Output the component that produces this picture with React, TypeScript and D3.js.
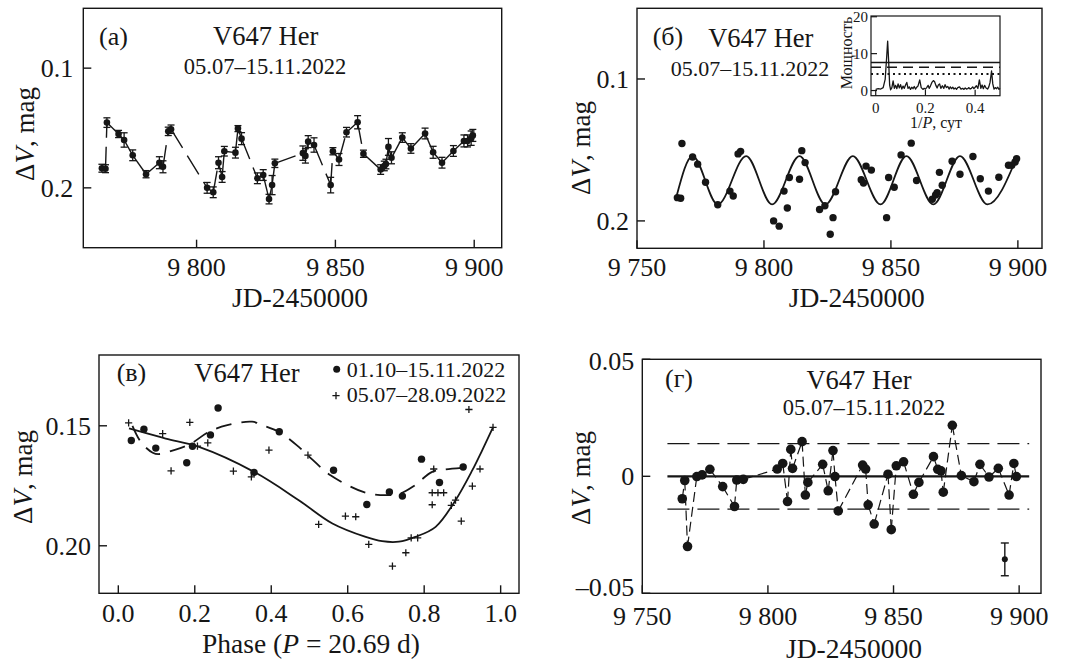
import React, { useEffect, useRef } from 'react';
import * as d3 from 'd3';

const FONT = '"Liberation Serif", "Times New Roman", serif';
const INK = '#161616';

// V647 Her, 05.07-15.11.2022: JD-2450000, dV (mag) and its error (mag)
const obsJd = [
  9765.9, 9767.2, 9767.7, 9771.9, 9773.9, 9777.0, 9781.8, 9786.6, 9787.9, 9789.8,
  9790.8, 9803.8, 9806.0, 9807.9, 9809.2, 9810.0, 9814.0, 9814.9, 9816.2, 9821.9,
  9824.0, 9826.1, 9827.2, 9828.2, 9838.3, 9839.2, 9840.2, 9842.3, 9848.3, 9849.1,
  9851.3, 9854.0, 9858.0, 9860.1, 9866.3, 9867.6, 9868.2, 9869.1, 9870.2, 9874.1,
  9877.2, 9882.3, 9885.2, 9888.4, 9892.5, 9896.3, 9897.6, 9898.9, 9899.5,
];
const obsDv = [
  0.1836, 0.184, 0.1455, 0.155, 0.16, 0.1728, 0.1886, 0.179, 0.1824, 0.1528,
  0.151, 0.2, 0.2037, 0.179, 0.1909, 0.1694, 0.1706, 0.1505, 0.1589, 0.192,
  0.1893, 0.2094, 0.1977, 0.1795, 0.171, 0.1733, 0.1614, 0.1642, 0.1977, 0.1694,
  0.1763, 0.1535, 0.1452, 0.1715, 0.1847, 0.1817, 0.1801, 0.1658, 0.1749, 0.158,
  0.1671, 0.1546, 0.1703, 0.179, 0.1692, 0.1608, 0.1608, 0.1585, 0.1562,
];
const obsErr = [
  0.0033, 0.0033, 0.004, 0.003, 0.006, 0.0045, 0.003, 0.005, 0.005, 0.0035,
  0.0035, 0.0045, 0.0045, 0.005, 0.0045, 0.004, 0.0045, 0.0025, 0.005, 0.0045,
  0.0045, 0.004, 0.008, 0.0035, 0.006, 0.006, 0.005, 0.006, 0.0065, 0.003,
  0.005, 0.004, 0.0055, 0.003, 0.004, 0.004, 0.004, 0.007, 0.005, 0.004,
  0.004, 0.0045, 0.005, 0.0045, 0.0045, 0.005, 0.005, 0.006, 0.005,
];

const fitJd = [9765.6, 9771.9, 9781.8, 9793.0, 9803.2, 9814.0, 9824.2, 9835.0, 9845.9, 9856.1, 9866.7, 9877.2, 9888.0, 9899.5];
const fitDv = [0.1825, 0.1543, 0.1884, 0.1543, 0.1884, 0.1543, 0.1884, 0.1543, 0.1884, 0.1543, 0.1884, 0.1543, 0.1884, 0.1555];

// periodogram (inset)
const freq = [
  0, 0.01, 0.02, 0.03, 0.038, 0.044, 0.048, 0.052, 0.056, 0.06, 0.065, 0.07, 0.075, 0.08, 0.085,
  0.09, 0.095, 0.1, 0.105, 0.11, 0.115, 0.12, 0.125, 0.13, 0.135, 0.14, 0.145, 0.15, 0.155, 0.16,
  0.165, 0.17, 0.177, 0.183, 0.19, 0.195, 0.2, 0.205, 0.211, 0.215, 0.22, 0.226, 0.232, 0.237, 0.242,
  0.247, 0.252, 0.257, 0.262, 0.268, 0.274, 0.279, 0.284, 0.29, 0.295, 0.3, 0.305, 0.31, 0.315, 0.32,
  0.325, 0.33, 0.337, 0.343, 0.35, 0.355, 0.36, 0.365, 0.37, 0.375, 0.38, 0.385, 0.39, 0.395, 0.4,
  0.405, 0.411, 0.417, 0.423, 0.428, 0.433, 0.438, 0.444, 0.45, 0.455, 0.46, 0.466, 0.471, 0.476, 0.481,
  0.486, 0.491, 0.496, 0.5,
];
const power = [
  0.3, 0.5, 0.4, 0.8, 3.0, 9.0, 13.4, 8.0, 1.5, 0.2, 0.8, 2.6, 0.6, 1.4, 0.5,
  1.8, 0.7, 1.6, 0.4, 1.2, 0.6, 1.5, 2.2, 0.6, 1.0, 0.3, 0.9, 0.5, 1.1, 0.4,
  0.9, 1.2, 2.9, 0.8, 0.3, 0.6, 0.4, 0.8, 1.4, 0.6, 1.2, 2.2, 2.7, 2.4, 1.4,
  0.7, 1.5, 1.8, 0.6, 1.3, 0.6, 1.6, 0.8, 1.1, 0.4, 1.0, 0.5, 0.9, 0.4, 0.7,
  0.3, 0.8, 1.0, 0.4, 0.6, 0.3, 0.7, 0.4, 0.5, 0.8, 0.4, 0.6, 1.0, 0.5, 0.9,
  1.3, 0.6, 2.9, 0.6, 1.5, 0.5, 1.4, 0.7, 0.4, 1.0, 2.2, 5.3, 1.8, 0.4, 0.8,
  0.5, 0.9, 0.3, 0.6,
];
const powerSolid = 7.6;
const powerDashed = 6.3;
const powerDotted = 4.5;

// phase diagram, P = 20.69 d
const latePhase = [0.034, 0.067, 0.098, 0.179, 0.194, 0.241, 0.261, 0.355, 0.421, 0.563, 0.65, 0.709, 0.743, 0.793, 0.84, 0.902];
const lateDv = [0.1561, 0.1514, 0.1593, 0.1654, 0.1585, 0.1538, 0.1426, 0.1694, 0.1525, 0.1685, 0.1828, 0.1776, 0.1793, 0.1639, 0.1736, 0.1672];
const earlyPhase = [
  0.027, 0.116, 0.138, 0.187, 0.207, 0.234, 0.301, 0.348, 0.394, 0.496,
  0.524, 0.594, 0.621, 0.655, 0.717, 0.752, 0.766, 0.783, 0.821, 0.825,
  0.821, 0.836, 0.851, 0.871, 0.882, 0.897, 0.926, 0.946, 0.917, 0.98,
];
const earlyDv = [
  0.1488, 0.1533, 0.1688, 0.1486, 0.1585, 0.1571, 0.1689, 0.1713, 0.1601, 0.1622,
  0.1911, 0.1876, 0.1879, 0.1994, 0.2085, 0.2029, 0.1967, 0.1967, 0.1829, 0.168,
  0.1779, 0.1779, 0.1779, 0.1832, 0.181, 0.1897, 0.1751, 0.168, 0.1432, 0.1507,
];
const earlyFitPhase = [0.028, 0.124, 0.211, 0.355, 0.472, 0.56, 0.647, 0.69, 0.734, 0.777, 0.83, 0.882, 0.926, 0.952, 0.98];
const earlyFitDv = [0.1511, 0.1553, 0.1588, 0.1692, 0.181, 0.1907, 0.1963, 0.1981, 0.1983, 0.1963, 0.1921, 0.181, 0.1685, 0.1601, 0.1507];
const lateFitPhase = [0.037, 0.06, 0.09, 0.105, 0.15, 0.19, 0.237, 0.285, 0.35, 0.376, 0.42, 0.472, 0.507, 0.555, 0.647, 0.708, 0.738, 0.773, 0.821, 0.856, 0.904];
const lateFitDv = [0.15, 0.157, 0.1612, 0.1618, 0.1599, 0.1574, 0.1525, 0.1497, 0.1483, 0.1497, 0.1525, 0.1588, 0.164, 0.1706, 0.1779, 0.1789, 0.1782, 0.1751, 0.1692, 0.1682, 0.1675];

// residuals after removing the fit
const resJd = [
  9765.9, 9766.9, 9768.0, 9771.7, 9773.8, 9776.9, 9782.0, 9786.7, 9787.6, 9790.2,
  9803.7, 9805.9, 9807.8, 9809.1, 9809.8, 9813.6, 9814.9, 9815.9, 9821.8, 9824.0,
  9825.9, 9826.7, 9828.0, 9837.7, 9838.9, 9839.9, 9842.3, 9847.8, 9849.1, 9851.1,
  9854.0, 9857.9, 9860.1, 9865.9, 9867.6, 9868.9, 9869.8, 9873.4, 9877.0, 9882.0,
  9884.4, 9888.0, 9891.7, 9896.0, 9897.9, 9898.9,
];
const resDv = [
  -0.0096, -0.0018, -0.03, -0.0001, 0.0006, 0.003, -0.0044, -0.0129, -0.0016, -0.0013,
  0.0031, 0.0055, -0.0108, 0.0115, 0.0034, 0.0148, -0.008, -0.0026, 0.0051, -0.0062,
  0.011, -0.0001, -0.0148, 0.0048, 0.0031, -0.0122, -0.0204, 0.0009, -0.0228, 0.0045,
  0.0062, -0.0077, -0.0026, 0.0084, 0.003, 0.0023, -0.0068, 0.0218, 0.0003, -0.0023,
  0.0051, -0.0003, 0.0034, -0.008, 0.0055, -0.0001,
];
const resLevel = 0.014;
const resLineJd = [9760, 9904];
const typicalErr = { jd: 9894.3, dv: -0.0355, err: 0.007 };

// ticks
const jdTicks = [9750, 9800, 9850, 9900];
const jdLabels = ['9 750', '9 800', '9 850', '9 900'];
const magTicks = [0.1, 0.2];
const magLabels = ['0.1', '0.2'];
const phaseTicks = [0, 0.2, 0.4, 0.6, 0.8, 1.0];
const phaseLabels = ['0.0', '0.2', '0.4', '0.6', '0.8', '1.0'];
const phaseMagTicks = [0.15, 0.2];
const phaseMagLabels = ['0.15', '0.20'];
const resTicks = [-0.05, 0, 0.05];
const resLabels = ['\u20130.05', '0', '0.05'];
const powerTicks = [0, 10, 20];
const powerLabels = ['0', '10', '20'];
const freqTicks = [0, 0.2, 0.4];
const freqLabels = ['0', '0.2', '0.4'];

type Box = { left: number; right: number; top: number; bottom: number };

const text = (g: any, x: number, y: number, s: string, size: number, anchor = 'start') =>
  g.append('text')
    .attr('x', x)
    .attr('y', y)
    .attr('font-size', size)
    .attr('text-anchor', anchor)
    .attr('fill', INK)
    .text(s);

const frame = (g: any, b: Box, x: any, y: any, o: any) => {
  g.append('rect')
    .attr('x', b.left)
    .attr('y', b.top)
    .attr('width', b.right - b.left)
    .attr('height', b.bottom - b.top)
    .attr('fill', 'none')
    .attr('stroke', INK)
    .attr('stroke-width', o.stroke || 1.4);

  o.xTicks.forEach((t: number, i: number) => {
    g.append('line')
      .attr('x1', x(t)).attr('x2', x(t))
      .attr('y1', b.bottom).attr('y2', b.bottom - o.tick)
      .attr('stroke', INK).attr('stroke-width', o.stroke || 1.4);
    text(g, x(t), o.xLabelY, o.xLabels[i], o.size, 'middle');
  });

  o.yTicks.forEach((t: number, i: number) => {
    g.append('line')
      .attr('x1', b.left).attr('x2', b.left + o.tick)
      .attr('y1', y(t)).attr('y2', y(t))
      .attr('stroke', INK).attr('stroke-width', o.stroke || 1.4);
    // small nudges keep the end labels inside the panel, as in the original
    const nudge = o.yNudge ? o.yNudge[i] : 0;
    text(g, b.left - o.yGap, y(t) + nudge, o.yLabels[i], o.size, 'end').attr('dy', '0.35em');
  });
};

const yTitle = (g: any, cx: number, cy: number, size: number) => {
  const t = g.append('text')
    .attr('transform', `translate(${cx},${cy}) rotate(-90)`)
    .attr('text-anchor', 'middle')
    .attr('font-size', size)
    .attr('fill', INK);
  t.append('tspan').text('\u0394');
  t.append('tspan').attr('font-style', 'italic').text('V');
  t.append('tspan').text(', mag');
};

const segments = (g: any, xs: number[], ys: number[], x: any, y: any, dash: string, width: number) => {
  for (let i = 0; i < xs.length - 1; i++) {
    g.append('line')
      .attr('x1', x(xs[i])).attr('y1', y(ys[i]))
      .attr('x2', x(xs[i + 1])).attr('y2', y(ys[i + 1]))
      .attr('stroke', INK)
      .attr('stroke-width', width)
      .attr('stroke-dasharray', dash);
  }
};

const dots = (g: any, xs: number[], ys: number[], x: any, y: any, r: number) => {
  g.selectAll(null)
    .data(xs)
    .enter()
    .append('circle')
    .attr('cx', (d: number) => x(d))
    .attr('cy', (_: number, i: number) => y(ys[i]))
    .attr('r', r)
    .attr('fill', INK);
};

const App = () => {
  const svgRef = useRef<SVGSVGElement | null>(null);

  useEffect(() => {
    if (!svgRef.current) return;
    const svg = d3.select(svgRef.current);
    svg.selectAll('*').remove();
    svg.attr('font-family', FONT);

    // (a) light curve with errors
    const A: Box = { left: 83.3, right: 501.7, top: 8.3, bottom: 247.7 };
    const xA = d3.scaleLinear().domain([9759.2, 9909.9]).range([A.left, A.right]);
    const yA = d3.scaleLinear().domain([0.05, 0.25]).range([A.top, A.bottom]);
    const gA = svg.append('g');
    frame(gA, A, xA, yA, {
      xTicks: jdTicks.slice(1), xLabels: jdLabels.slice(1),
      yTicks: magTicks, yLabels: magLabels,
      tick: 8, size: 26, xLabelY: 276, yGap: 10,
    });
    obsJd.forEach((t, i) => {
      const px = xA(t);
      const y1 = yA(obsDv[i] - obsErr[i]);
      const y2 = yA(obsDv[i] + obsErr[i]);
      gA.append('line').attr('x1', px).attr('x2', px).attr('y1', y1).attr('y2', y2)
        .attr('stroke', INK).attr('stroke-width', 1.3);
      [y1, y2].forEach((yy) => {
        gA.append('line').attr('x1', px - 3.5).attr('x2', px + 3.5).attr('y1', yy).attr('y2', yy)
          .attr('stroke', INK).attr('stroke-width', 1.3);
      });
    });
    segments(gA, obsJd, obsDv, xA, yA, '22,9', 1.4);
    dots(gA, obsJd, obsDv, xA, yA, 3.3);
    text(gA, 99, 45, '(a)', 26);
    text(gA, 265.7, 44.5, 'V647 Her', 26.5, 'middle');
    text(gA, 265, 74, '05.07\u201315.11.2022', 22.5, 'middle');
    text(gA, 300, 307, 'JD-2450000', 27.5, 'middle');
    yTitle(gA, 34, 134, 27);

    // (б) light curve with sine fit
    const B: Box = { left: 637, right: 1042, top: 8.3, bottom: 248.3 };
    const xB = d3.scaleLinear().domain([9750, 9909.5]).range([B.left, B.right]);
    const yB = d3.scaleLinear().domain([0.0502, 0.2193]).range([B.top, B.bottom]);
    const gB = svg.append('g');
    frame(gB, B, xB, yB, {
      xTicks: jdTicks, xLabels: jdLabels,
      yTicks: magTicks, yLabels: magLabels,
      tick: 8, size: 26, xLabelY: 276, yGap: 8,
    });
    const fitLine = d3.line<number>()
      .x((d) => xB(d))
      .y((_, i) => yB(fitDv[i]))
      .curve(d3.curveMonotoneX);
    gB.append('path').attr('d', fitLine(fitJd)).attr('fill', 'none')
      .attr('stroke', INK).attr('stroke-width', 1.8);
    dots(gB, obsJd, obsDv, xB, yB, 3.7);
    text(gB, 652.7, 45, '(\u0431)', 26);
    text(gB, 760.8, 47, 'V647 Her', 26.5, 'middle');
    text(gB, 750, 76, '05.07\u201315.11.2022', 22, 'middle');
    text(gB, 856.7, 307, 'JD-2450000', 27.5, 'middle');
    yTitle(gB, 590, 148, 27);

    // inset periodogram
    const I: Box = { left: 871, right: 1000, top: 16, bottom: 95.7 };
    const xI = d3.scaleLinear().domain([-0.019, 0.5]).range([I.left, I.right]);
    const yI = d3.scaleLinear().domain([-1.4, 20.2]).range([I.bottom, I.top]);
    const gI = svg.append('g');
    gI.append('rect').attr('x', I.left).attr('y', I.top)
      .attr('width', I.right - I.left).attr('height', I.bottom - I.top).attr('fill', '#fff');
    const level = (v: number, dash: string | null, w: number) => {
      const l = gI.append('line')
        .attr('x1', I.left).attr('x2', I.right)
        .attr('y1', yI(v)).attr('y2', yI(v))
        .attr('stroke', INK).attr('stroke-width', w);
      if (dash) l.attr('stroke-dasharray', dash);
    };
    level(powerSolid, null, 1.3);
    level(powerDashed, '10,6', 1.6);
    level(powerDotted, '2,3.5', 2);
    const specLine = d3.line<number>().x((d) => xI(d)).y((_, i) => yI(power[i]));
    gI.append('path').attr('d', specLine(freq)).attr('fill', 'none')
      .attr('stroke', INK).attr('stroke-width', 1.3).attr('stroke-linejoin', 'round');
    frame(gI, I, xI, yI, {
      xTicks: freqTicks, xLabels: freqLabels,
      yTicks: powerTicks, yLabels: powerLabels,
      tick: 6, size: 15, xLabelY: 113, yGap: 3, stroke: 1.2,
    });
    const fl = gI.append('text').attr('x', 936).attr('y', 128).attr('font-size', 16)
      .attr('text-anchor', 'middle').attr('fill', INK);
    fl.append('tspan').text('1/');
    fl.append('tspan').attr('font-style', 'italic').text('P');
    fl.append('tspan').text(', \u0441\u0443\u0442');
    gI.append('text').attr('transform', 'translate(852,53) rotate(-90)')
      .attr('text-anchor', 'middle').attr('font-size', 16).attr('fill', INK)
      .text('\u041c\u043e\u0449\u043d\u043e\u0441\u0442\u044c');

    // (в) phase diagram
    const C: Box = { left: 99, right: 519, top: 355, bottom: 593.3 };
    const xC = d3.scaleLinear().domain([-0.0505, 1.048]).range([C.left, C.right]);
    const yC = d3.scaleLinear().domain([0.1205, 0.2198]).range([C.top, C.bottom]);
    const gC = svg.append('g');
    frame(gC, C, xC, yC, {
      xTicks: phaseTicks, xLabels: phaseLabels,
      yTicks: phaseMagTicks, yLabels: phaseMagLabels,
      tick: 8, size: 26, xLabelY: 622, yGap: 8,
    });
    const earlyLine = d3.line<number>()
      .x((d) => xC(d))
      .y((_, i) => yC(earlyFitDv[i]))
      .curve(d3.curveCatmullRom.alpha(0.5));
    gC.append('path').attr('d', earlyLine(earlyFitPhase)).attr('fill', 'none')
      .attr('stroke', INK).attr('stroke-width', 1.8);
    const lateLine = d3.line<number>()
      .x((d) => xC(d))
      .y((_, i) => yC(lateFitDv[i]))
      .curve(d3.curveCatmullRom.alpha(0.5));
    gC.append('path').attr('d', lateLine(lateFitPhase)).attr('fill', 'none')
      .attr('stroke', INK).attr('stroke-width', 1.8).attr('stroke-dasharray', '16,10');
    const cross = 'M-3.6,0H3.6M0,-3.6V3.6';
    earlyPhase.forEach((p, i) => {
      gC.append('path').attr('d', cross)
        .attr('transform', `translate(${xC(p)},${yC(earlyDv[i])})`)
        .attr('stroke', INK).attr('stroke-width', 1.3);
    });
    dots(gC, latePhase, lateDv, xC, yC, 3.7);
    text(gC, 116.7, 381, '(\u0432)', 26);
    text(gC, 194.3, 382, 'V647 Her', 26.5);
    gC.append('circle').attr('cx', 336.7).attr('cy', 369.3).attr('r', 3.5).attr('fill', INK);
    text(gC, 346.7, 376.5, '01.10\u201315.11.2022', 22);
    gC.append('path').attr('d', cross).attr('transform', 'translate(336,395.7)')
      .attr('stroke', INK).attr('stroke-width', 1.3);
    text(gC, 346.7, 402, '05.07\u201328.09.2022', 22);
    const pt = gC.append('text').attr('x', 311).attr('y', 652.5).attr('font-size', 27.5)
      .attr('text-anchor', 'middle').attr('fill', INK);
    pt.append('tspan').text('Phase (');
    pt.append('tspan').attr('font-style', 'italic').text('P');
    pt.append('tspan').text(' = 20.69 d)');
    yTitle(gC, 32, 477, 27);

    // (г) residuals
    const D: Box = { left: 642.3, right: 1041, top: 359.3, bottom: 593.3 };
    const xD = d3.scaleLinear().domain([9750, 9908.7]).range([D.left, D.right]);
    const yD = d3.scaleLinear().domain([-0.05, 0.05]).range([D.bottom, D.top]);
    const gD = svg.append('g');
    frame(gD, D, xD, yD, {
      xTicks: jdTicks, xLabels: jdLabels,
      yTicks: resTicks, yLabels: resLabels, yNudge: [-6, 0, 2],
      tick: 8, size: 26, xLabelY: 624.5, yGap: 8,
    });
    gD.append('line')
      .attr('x1', xD(resLineJd[0])).attr('x2', xD(resLineJd[1]))
      .attr('y1', yD(0)).attr('y2', yD(0))
      .attr('stroke', INK).attr('stroke-width', 2.2);
    [resLevel, -resLevel].forEach((v) => {
      gD.append('line')
        .attr('x1', xD(resLineJd[0])).attr('x2', xD(resLineJd[1]))
        .attr('y1', yD(v)).attr('y2', yD(v))
        .attr('stroke', INK).attr('stroke-width', 1.3).attr('stroke-dasharray', '22,8');
    });
    segments(gD, resJd, resDv, xD, yD, '10,5', 1.2);
    dots(gD, resJd, resDv, xD, yD, 4.8);
    const ex = xD(typicalErr.jd);
    const ey1 = yD(typicalErr.dv + typicalErr.err);
    const ey2 = yD(typicalErr.dv - typicalErr.err);
    gD.append('line').attr('x1', ex).attr('x2', ex).attr('y1', ey1).attr('y2', ey2)
      .attr('stroke', INK).attr('stroke-width', 1.4);
    [ey1, ey2].forEach((yy) => {
      gD.append('line').attr('x1', ex - 4).attr('x2', ex + 4).attr('y1', yy).attr('y2', yy)
        .attr('stroke', INK).attr('stroke-width', 1.4);
    });
    gD.append('circle').attr('cx', ex).attr('cy', yD(typicalErr.dv)).attr('r', 3).attr('fill', INK);
    text(gD, 665, 387, '(\u0433)', 26);
    text(gD, 859, 389, 'V647 Her', 26.5, 'middle');
    text(gD, 864, 415, '05.07\u201315.11.2022', 22.5, 'middle');
    text(gD, 854, 658, 'JD-2450000', 27.5, 'middle');
    yTitle(gD, 590, 478, 27);
  }, []);

  return (
    <svg
      ref={svgRef}
      width={1069}
      height={663}
      style={{ position: 'absolute', left: 0, top: 0, background: '#fff' }}
    />
  );
};

export default App;
